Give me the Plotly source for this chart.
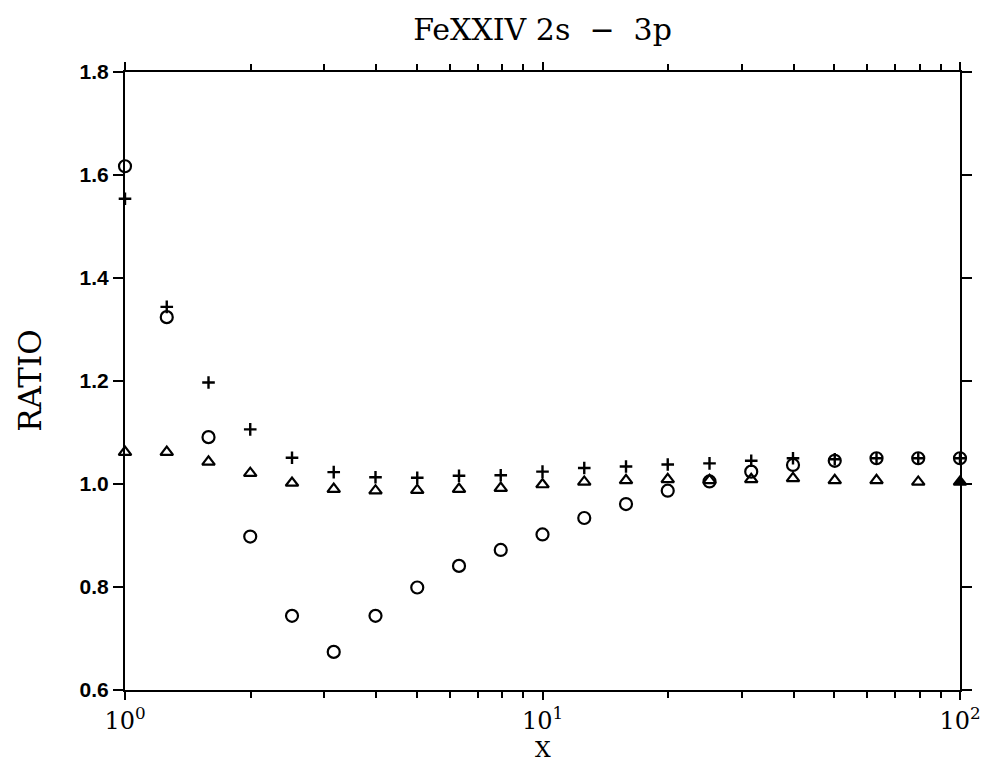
import plotly.graph_objects as go

# X grid (log spaced)
x_vals = [1.0, 1.259, 1.585, 1.995, 2.512, 3.162, 3.981, 5.012, 6.310, 7.943,
          10.0, 12.59, 15.85, 19.95, 25.12, 31.62, 39.81, 50.12, 63.10, 79.43, 100.0]

# Series
circle_vals = [1.617, 1.324, 1.091, 0.898, 0.744, 0.674, 0.744, 0.799, 0.841, 0.872,
               0.902, 0.934, 0.961, 0.987, 1.005, 1.024, 1.037, 1.045, 1.050, 1.050, 1.050]
plus_vals = [1.554, 1.344, 1.197, 1.106, 1.051, 1.023, 1.013, 1.012, 1.016, 1.017,
             1.024, 1.031, 1.034, 1.038, 1.040, 1.045, 1.050, 1.048, 1.050, 1.050, 1.050]
triangle_vals = [1.062, 1.062, 1.043, 1.021, 1.002, 0.990, 0.987, 0.988, 0.990, 0.992,
                 0.999, 1.004, 1.007, 1.009, 1.007, 1.009, 1.011, 1.007, 1.007, 1.004, 1.004]

major_ticks = [1, 10, 100]
major_text = ["10<sup>0</sup>", "10<sup>1</sup>", "10<sup>2</sup>"]
minor_ticks = [2, 3, 4, 5, 6, 7, 8, 9, 20, 30, 40, 50, 60, 70, 80, 90]
y_ticks = [0.6, 0.8, 1.0, 1.2, 1.4, 1.6, 1.8]

fig = go.Figure()
fig.add_trace(go.Scatter(
    x=x_vals, y=triangle_vals, mode="markers",
    marker=dict(symbol=["triangle-up-open"] * (len(x_vals) - 1) + ["triangle-up"],
                size=11, color="black", line=dict(color="black", width=2.2)),
    cliponaxis=False, showlegend=False))
fig.add_trace(go.Scatter(
    x=x_vals, y=circle_vals, mode="markers",
    marker=dict(symbol="circle-open", size=12, color="black",
                line=dict(color="black", width=2.2)),
    cliponaxis=False, showlegend=False))
fig.add_trace(go.Scatter(
    x=x_vals, y=plus_vals, mode="markers",
    marker=dict(symbol="cross-thin", size=9, color="black",
                line=dict(color="black", width=2.4)),
    cliponaxis=False, showlegend=False))

fig.update_layout(
    width=983, height=765,
    margin=dict(l=125, r=23, t=72, b=75),
    paper_bgcolor="white", plot_bgcolor="white",
    title=dict(text="FeXXIV 2s\u00a0\u00a0\u2212\u00a0\u00a03p", x=0.5, xref="paper",
               xanchor="center", y=0.962, yref="container", yanchor="middle",
               font=dict(family="DejaVu Serif", size=30, color="black")),
    xaxis=dict(type="log", range=[0, 2], automargin=False,
               tickmode="array", tickvals=major_ticks, ticktext=major_text,
               ticklabeloverflow="allow",
               ticks="outside", ticklen=8, tickwidth=2, tickcolor="black",
               showline=True, linecolor="black", linewidth=2, mirror="allticks",
               showgrid=False, zeroline=False,
               tickfont=dict(family="DejaVu Serif", size=24, color="black"),
               minor=dict(tickvals=minor_ticks, ticks="outside", ticklen=6,
                          tickwidth=1.5, tickcolor="black", showgrid=False)),
    yaxis=dict(range=[0.6, 1.8], tickmode="array", tickvals=y_ticks, automargin=False,
               tickformat=".1f",
               ticks="outside", ticklen=10, tickwidth=2, tickcolor="black",
               showline=True, linecolor="black", linewidth=2, mirror="allticks",
               showgrid=False, zeroline=False,
               tickfont=dict(family="Liberation Sans", size=21, color="black",
                             weight="bold")),
    annotations=[
        dict(text="X", xref="paper", yref="paper", x=0.5, y=-0.096,
             xanchor="center", yanchor="middle", showarrow=False,
             font=dict(family="DejaVu Serif", size=22, color="black")),
        dict(text="RATIO", xref="paper", yref="paper", x=-0.114, y=0.5,
             xanchor="center", yanchor="middle", showarrow=False, textangle=-90,
             font=dict(family="DejaVu Serif", size=31, color="black")),
    ],
)

fig.write_html("out.html")
